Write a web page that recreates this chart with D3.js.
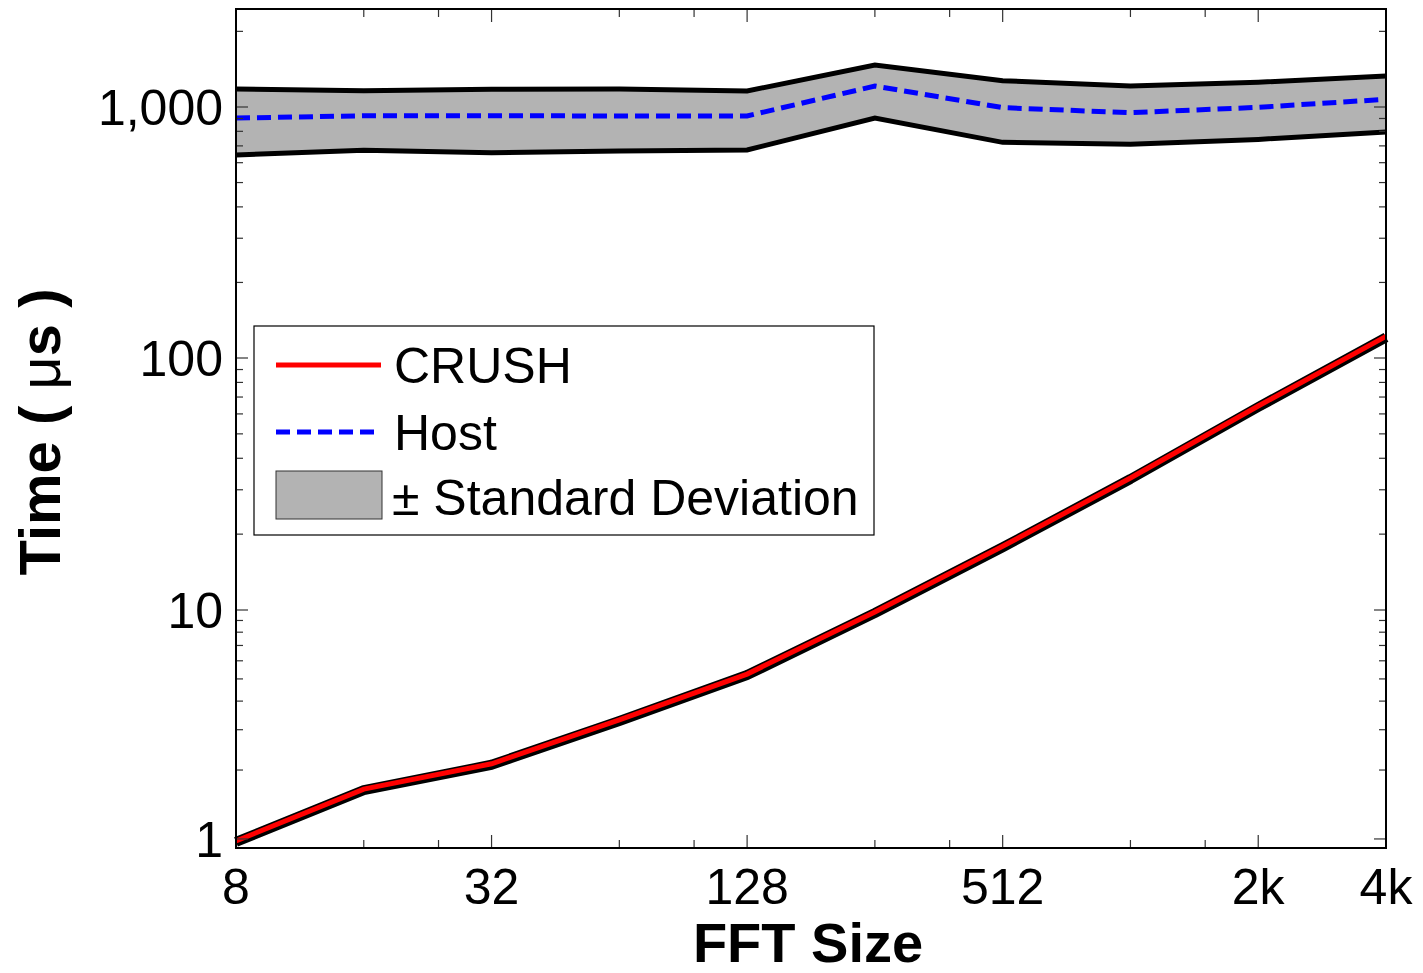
<!DOCTYPE html>
<html>
<head>
<meta charset="utf-8">
<script src="https://cdn.jsdelivr.net/npm/d3@7"></script>
<style>
  body { margin: 0; background: #fff; }
  svg text { font-family: "Liberation Sans", Arial, Helvetica, sans-serif; }
</style>
</head>
<body>
<svg id="chart"></svg>
<script>
// FFT sizes (x) and timings in microseconds (y)
var sizes = [8, 16, 32, 64, 128, 256, 512, 1024, 2048, 4096];
var crush = [0.98, 1.65, 2.13, 3.31, 5.25, 9.8, 17.9, 33.4, 64.5, 122];
var hostMean = [904, 923, 923, 921, 921, 1212, 994, 949, 997, 1073];
var hostUpper = [1180, 1161, 1176, 1180, 1158, 1470, 1273, 1212, 1254, 1329];
var hostLower = [644, 672, 658, 668, 674, 904, 723, 710, 743, 795];

var xMajor = [8, 32, 128, 512, 2048, 4096];
var xLabels = ["8", "32", "128", "512", "2k", "4k"];
var xMinor = [16, 24, 64, 96, 256, 384, 1024, 1536];
var yMajor = [1, 10, 100, 1000];
var yLabels = ["1", "10", "100", "1,000"];

var W = 1423, H = 973;
var margin = {top: 9, left: 236, right: 37, bottom: 125};
var width = W - margin.left - margin.right;   // 1150
var height = H - margin.top - margin.bottom;  // 839

var svg = d3.select("#chart").attr("width", W).attr("height", H);
var g = svg.append("g").attr("transform", "translate(" + margin.left + "," + margin.top + ")");

var x = d3.scaleLog().base(2).domain([8, 4096]).range([0, width]);
// the original axis has a squeezed bottom decade, so the log scale is piecewise
var y = d3.scaleLog().domain([0.913, 10, 100, 1000, 2455]).range([height, 601, 349, 98, 0]);

// std deviation band
var area = d3.area()
    .x(function(d, i) { return x(sizes[i]); })
    .y0(function(d, i) { return y(hostLower[i]); })
    .y1(function(d, i) { return y(hostUpper[i]); });
g.append("path").datum(sizes).attr("d", area).attr("fill", "#b3b3b3");

var line = function(vals) {
    return d3.line()
        .x(function(d, i) { return x(sizes[i]); })
        .y(function(d) { return y(d); })(vals);
};
g.append("path").attr("d", line(hostUpper)).attr("fill", "none").attr("stroke", "#000").attr("stroke-width", 5);
g.append("path").attr("d", line(hostLower)).attr("fill", "none").attr("stroke", "#000").attr("stroke-width", 5);
g.append("path").attr("d", line(hostMean)).attr("fill", "none").attr("stroke", "#0000ff")
    .attr("stroke-width", 5).attr("stroke-dasharray", "14,7");

// CRUSH: red line with black outline
g.append("path").attr("d", line(crush)).attr("transform", "translate(0,1)")
    .attr("fill", "none").attr("stroke", "#000").attr("stroke-width", 10).attr("stroke-linejoin", "round");
g.append("path").attr("d", line(crush)).attr("fill", "none").attr("stroke", "#ff0000").attr("stroke-width", 5);

// minor y ticks, 2..9 in each decade
var yMinor = [];
[1, 10, 100, 1000].forEach(function(dec) {
    for (var m = 2; m <= 9; m++) {
        if (m * dec < 2455) yMinor.push(m * dec);
    }
});

var tick = "#333";
function yTicks(vals, len) {
    vals.forEach(function(v) {
        g.append("line").attr("x1", 0).attr("x2", len).attr("y1", y(v)).attr("y2", y(v)).attr("stroke", tick).attr("stroke-width", 1.2);
        g.append("line").attr("x1", width).attr("x2", width - len).attr("y1", y(v)).attr("y2", y(v)).attr("stroke", tick).attr("stroke-width", 1.2);
    });
}
function xTicks(vals, len) {
    vals.forEach(function(v) {
        g.append("line").attr("x1", x(v)).attr("x2", x(v)).attr("y1", height).attr("y2", height - len).attr("stroke", tick).attr("stroke-width", 1.2);
        g.append("line").attr("x1", x(v)).attr("x2", x(v)).attr("y1", 0).attr("y2", len).attr("stroke", tick).attr("stroke-width", 1.2);
    });
}
yTicks(yMinor, 7);
yTicks(yMajor, 12);
xTicks(xMinor, 8);
xTicks(xMajor, 13);

// box
g.append("rect").attr("width", width).attr("height", height)
    .attr("fill", "none").attr("stroke", "#000").attr("stroke-width", 2);

// tick labels
g.selectAll(".xl").data(xMajor).enter().append("text")
    .attr("x", function(d) { return x(d); })
    .attr("y", height + 56)
    .attr("text-anchor", "middle")
    .style("font-size", "50px")
    .text(function(d, i) { return xLabels[i]; });

g.selectAll(".yl").data(yMajor).enter().append("text")
    .attr("x", -13)
    .attr("y", function(d) { return y(d) + 18; })
    .attr("text-anchor", "end")
    .style("font-size", "50px")
    .text(function(d, i) { return yLabels[i]; });

// axis titles
svg.append("text")
    .attr("x", 808).attr("y", 962)
    .attr("text-anchor", "middle")
    .style("font-size", "56px").style("font-weight", "bold")
    .text("FFT Size");

var yt = svg.append("text")
    .attr("transform", "translate(60,432) rotate(-90)")
    .attr("text-anchor", "middle")
    .style("font-size", "58px").style("font-weight", "bold");
yt.append("tspan").text("Time ( ");
yt.append("tspan").style("font-weight", "normal").text("\u03bc");
yt.append("tspan").text("s )");

// legend
var lg = svg.append("g");
lg.append("rect").attr("x", 254).attr("y", 326).attr("width", 620).attr("height", 209)
    .attr("fill", "#fff").attr("stroke", "#000").attr("stroke-width", 1.2);
lg.append("line").attr("x1", 276).attr("x2", 381).attr("y1", 365).attr("y2", 365)
    .attr("stroke", "#ff0000").attr("stroke-width", 5);
lg.append("line").attr("x1", 276).attr("x2", 381).attr("y1", 432).attr("y2", 432)
    .attr("stroke", "#0000ff").attr("stroke-width", 5).attr("stroke-dasharray", "14,7");
lg.append("rect").attr("x", 276).attr("y", 471).attr("width", 106).attr("height", 48)
    .attr("fill", "#b3b3b3").attr("stroke", "#333").attr("stroke-width", 1);
lg.append("text").attr("x", 394).attr("y", 383).style("font-size", "50px").text("CRUSH");
lg.append("text").attr("x", 394).attr("y", 450).style("font-size", "50px").text("Host");
lg.append("text").attr("x", 392).attr("y", 515).style("font-size", "50px").text("\u00b1 Standard Deviation");
</script>
</body>
</html>
